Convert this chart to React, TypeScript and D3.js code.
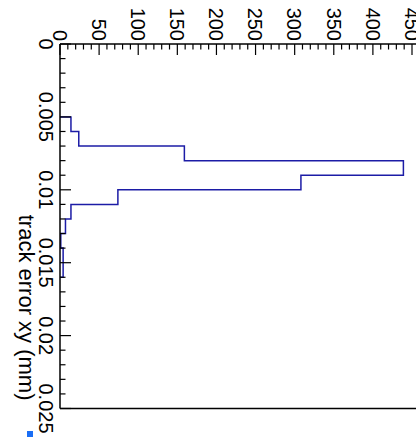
import React from "react";
import * as d3 from "d3";

// Histogram bins (track error xy, mm) — lower edges, width 0.001
const binStarts = [0.005, 0.006, 0.007, 0.008, 0.009, 0.01, 0.011, 0.012, 0.013, 0.014, 0.015];
const binCounts = [14, 24, 159, 439, 308, 74, 14, 7, 1, 4, 4];
const binWidth = 0.001;

const countTicks = [0, 50, 100, 150, 200, 250, 300, 350, 400, 450];
const errorTicks = [0, 0.005, 0.01, 0.015, 0.02, 0.025];
const errorTickLabels = ["0", "0.005", "0.01", "0.015", "0.02", "0.025"];
const axisTitle = "track error xy (mm)";

const W = 416;
const H = 438;
const FONT = "'Liberation Sans', Arial, Helvetica, sans-serif";

export default function App() {
  // count axis runs left -> right, error axis runs top -> bottom (chart rotated 90°)
  const cx = d3.scaleLinear().domain([0, 450]).range([60, 412]);
  const ey = d3.scaleLinear().domain([0, 0.025]).range([44, 408.5]);

  const top = ey(0);
  const bottom = ey(0.025);
  const left = cx(0);

  // step path
  const pts: [number, number][] = [];
  pts.push([cx(0), ey(binStarts[0])]);
  binStarts.forEach((s, i) => {
    pts.push([cx(binCounts[i]), ey(s)]);
    pts.push([cx(binCounts[i]), ey(s + binWidth)]);
  });
  pts.push([cx(0), ey(binStarts[binStarts.length - 1] + binWidth)]);
  const line = d3.line<[number, number]>().x((d) => d[0]).y((d) => d[1]);

  const countMinor = d3.range(0, 451, 10);
  const errMinor = d3.range(0, 26).map((i) => i * 0.001);
  const MAJ = 11;
  const MIN = 5.5;

  return (
    <div style={{ position: "absolute", left: 0, top: 0 }}>
      <svg width={W} height={H} style={{ display: "block", background: "#fff" }}>
        {/* histogram */}
        <path d={line(pts) || ""} fill="none" stroke="#1c1ca6" strokeWidth={1.5} />
        {/* frame */}
        <g stroke="#000" strokeWidth={1.5} fill="none">
          <line x1={left} y1={top} x2={W + 2} y2={top} />
          <line x1={left} y1={bottom} x2={W + 2} y2={bottom} />
          <line x1={left} y1={top} x2={left} y2={bottom} />
        </g>
        {/* ticks */}
        <g stroke="#000" strokeWidth={1.2}>
          {countMinor.map((v) => {
            const major = v % 50 === 0;
            return <line key={"c" + v} x1={cx(v)} x2={cx(v)} y1={top} y2={top + (major ? MAJ : MIN)} />;
          })}
          {errMinor.map((v, i) => {
            const major = i % 5 === 0;
            return <line key={"e" + i} x1={left} x2={left + (major ? MAJ : MIN)} y1={ey(v)} y2={ey(v)} />;
          })}
        </g>
        {/* tick labels */}
        <g fontFamily={FONT} fontSize={20} fill="#000">
          {countTicks.map((v) => (
            <text key={"cl" + v} textAnchor="end" transform={`translate(${cx(v) - 7.2},${top - 3}) rotate(90)`}>
              {String(v)}
            </text>
          ))}
          {errorTicks.map((v, i) => (
            <text key={"el" + i} textAnchor="middle" transform={`translate(38.5,${ey(v)}) rotate(90)`}>
              {errorTickLabels[i]}
            </text>
          ))}
        </g>
        {/* axis title */}
        <text
          fontFamily={FONT}
          fontSize={22}
          textAnchor="end"
          transform={`translate(19,${bottom - 8}) rotate(90)`}
        >
          {axisTitle}
        </text>
        {/* small marker */}
        <rect x={27} y={431} width={6} height={6} fill="#1a6ef5" />
      </svg>
    </div>
  );
}
